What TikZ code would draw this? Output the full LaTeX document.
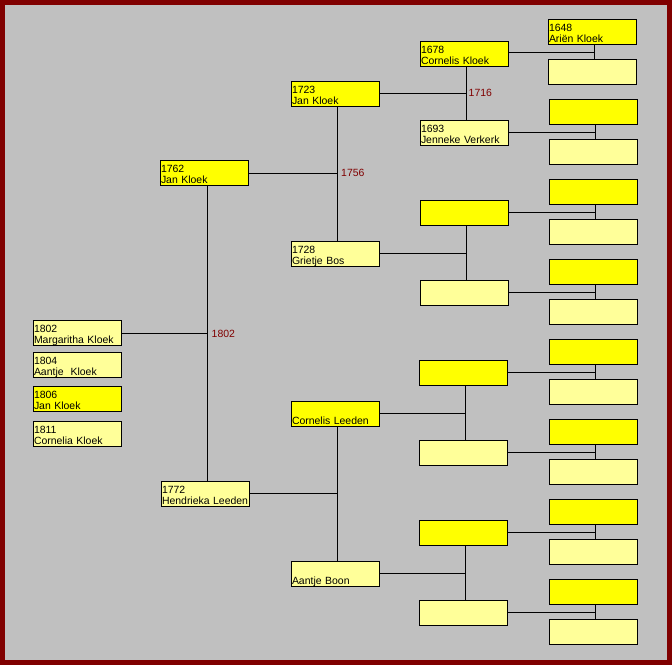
\documentclass[tikz,border=0pt]{standalone}
\usepackage{fontspec}
\setmainfont{Liberation Sans}
\definecolor{dred}{HTML}{800000}
\definecolor{bggray}{HTML}{C0C0C0}
\definecolor{yel}{HTML}{FFFF00}
\definecolor{lyel}{HTML}{FFFF99}
\newcommand\psfont{\fontsize{10.5}{11.3}\selectfont}
\newcommand\pl[2]{\rule{0pt}{11.5bp}#1\\#2\rule[-2.2bp]{0pt}{2.2bp}}
\tikzset{
  pbox/.style={draw=black, line width=1bp, anchor=north west, outer sep=0pt,
    minimum width=88bp, minimum height=25bp, inner xsep=0.5bp, inner ysep=0pt,
    text width=87bp, align=left, font=\psfont},
  manbox/.style={pbox, fill=yel},
  womanbox/.style={pbox, fill=lyel},
  conn/.style={draw=black, line width=1bp},
  yearlbl/.style={text=dred, font=\psfont, anchor=west, inner sep=0pt}
}
\begin{document}
\begin{tikzpicture}[x=1bp,y=-1bp]
\useasboundingbox (0,0) rectangle (672,665);
\fill[dred] (0,0) rectangle (672,665);
\fill[bggray] (5,5) rectangle (667,660);

% generation 1 (children)
\node[womanbox] (c1) at (33.5,320.5) {\pl{1802}{Margaritha Kloek}};
\node[womanbox] (c2) at (33.5,352.5) {\pl{1804}{Aantje\ \ Kloek}};
\node[manbox]   (c3) at (33.5,386.5) {\pl{1806}{Jan Kloek}};
\node[womanbox] (c4) at (33.5,421.5) {\pl{1811}{Cornelia Kloek}};

% generation 2
\node[manbox]   (g2a) at (160.5,160.5) {\pl{1762}{Jan Kloek}};
\node[womanbox] (g2b) at (161.5,481.5) {\pl{1772}{Hendrieka Leeden}};

% generation 3
\node[manbox]   (g3a) at (291.5,81.5)  {\pl{1723}{Jan Kloek}};
\node[womanbox] (g3b) at (291.5,241.5) {\pl{1728}{Grietje Bos}};
\node[manbox]   (g3c) at (291.5,401.5) {\pl{}{Cornelis Leeden}};
\node[womanbox] (g3d) at (291.5,561.5) {\pl{}{Aantje Boon}};

% generation 4
\node[manbox]   (g40) at (420.5,41.5)  {\pl{1678}{Cornelis Kloek}};
\node[womanbox] (g41) at (420.5,120.5) {\pl{1693}{Jenneke Verkerk}};
\node[manbox]   (g42) at (420.5,200.5) {};
\node[womanbox] (g43) at (420.5,280.5) {};
\node[manbox]   (g44) at (419.5,360.5) {};
\node[womanbox] (g45) at (419.5,440.5) {};
\node[manbox]   (g46) at (419.5,520.5) {};
\node[womanbox] (g47) at (419.5,600.5) {};

% generation 5
\node[manbox]   (g5m0) at (548.5,19.5) {\pl{1648}{Ariën Kloek}};
\node[womanbox] (g5f0) at (548.5,59.5) {};
\foreach \i in {1,...,7}{
  \node[manbox]   (g5m\i) at (549.5,{19.5+80*\i}) {};
  \node[womanbox] (g5f\i) at (549.5,{59.5+80*\i}) {};
}

% junctions
\coordinate (j1) at (207.5,333.5);
\coordinate (j2a) at (337.5,173.5);
\coordinate (j2b) at (337.5,493.5);
\coordinate (j3a) at (466.5,93.5);
\coordinate (j3b) at (466.5,253.5);
\coordinate (j3c) at (465.5,413.5);
\coordinate (j3d) at (465.5,573.5);
\coordinate (j40) at (594.5,52.5);
\foreach \i in {1,...,7}{
  \coordinate (j4\i) at (595.5,{52.5+80*\i});
}

% connectors gen1-gen2
\draw[conn] (g2a.south -| j1) -- (g2b.north -| j1);
\draw[conn] (c1.east |- j1) -- (j1);
% gen2-gen3
\draw[conn] (g3a.south -| j2a) -- (g3b.north -| j2a);
\draw[conn] (g2a.east |- j2a) -- (j2a);
\draw[conn] (g3c.south -| j2b) -- (g3d.north -| j2b);
\draw[conn] (g2b.east |- j2b) -- (j2b);
% gen3-gen4
\draw[conn] (g40.south -| j3a) -- (g41.north -| j3a);
\draw[conn] (g3a.east |- j3a) -- (j3a);
\draw[conn] (g42.south -| j3b) -- (g43.north -| j3b);
\draw[conn] (g3b.east |- j3b) -- (j3b);
\draw[conn] (g44.south -| j3c) -- (g45.north -| j3c);
\draw[conn] (g3c.east |- j3c) -- (j3c);
\draw[conn] (g46.south -| j3d) -- (g47.north -| j3d);
\draw[conn] (g3d.east |- j3d) -- (j3d);
% gen4-gen5
\foreach \i in {0,...,7}{
  \draw[conn] (g5m\i.south -| j4\i) -- (g5f\i.north -| j4\i);
  \draw[conn] (g4\i.east |- j4\i) -- (j4\i);
}

% marriage years
\node[yearlbl] (y1802) at (211.5,334) {1802};
\node[yearlbl] (y1756) at (341,173.3) {1756};
\node[yearlbl] (y1716) at (468.5,92.7) {1716};
\end{tikzpicture}
\end{document}
